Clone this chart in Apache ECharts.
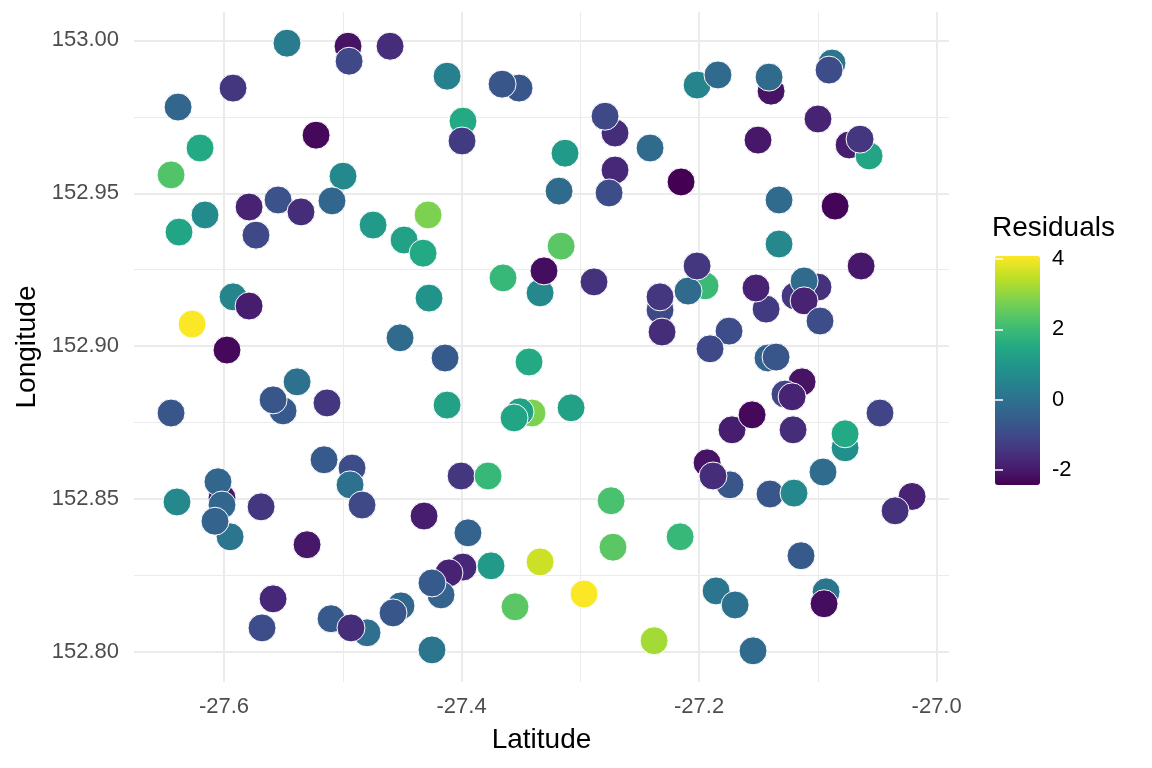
<!DOCTYPE html>
<html><head><meta charset="utf-8">
<script src="https://cdn.jsdelivr.net/npm/echarts@6/dist/echarts.min.js"></script>
<style>html,body{margin:0;padding:0;background:#fff}#c{width:1152px;height:768px}</style>
</head><body><div id="c"></div>
<script>
// ---- data ----
const latitude = [
-27.5470,-27.4956,-27.4947,-27.4602,-27.4122,-27.3516,-27.3659,-27.6387,-27.5924,-27.5225,
-27.3988,-27.3996,-27.6202,-27.6446,-27.4998,-27.3129,-27.2708,-27.2792,-27.2413,-27.2708,
-27.2758,-27.3179,-27.2152,-27.2017,-27.1841,-27.1394,-27.1411,-27.0881,-27.0906,-27.0999,
-27.1504,-27.0737,-27.0569,-27.0645,-27.1327,-27.0855,-27.6160,-27.5789,-27.5545,-27.5352,
-27.5091,-27.4745,-27.6379,-27.5731,-27.4484,-27.4324,-27.4282,-27.3162,-27.3651,-27.3339,
-27.3306,-27.2885,-27.2329,-27.2329,-27.2312,-27.1950,-27.2093,-27.2017,-27.1327,-27.0636,
-27.1436,-27.1521,-27.0999,-27.1192,-27.1116,-27.1116,-27.0982,-27.1748,-27.1908,-27.1420,
-27.1352,-27.1133,-27.1277,-27.1217,-27.1723,-27.1554,-27.1209,-27.0477,-27.0771,-27.0771,
-27.5924,-27.5789,-27.6269,-27.5975,-27.4518,-27.5385,-27.5503,-27.5587,-27.5133,-27.6446,
-27.4274,-27.4139,-27.4122,-27.3432,-27.3078,-27.3407,-27.3508,-27.3558,-27.5158,-27.4922,
-27.4939,-27.4838,-27.6017,-27.6051,-27.6017,-27.5949,-27.6076,-27.6396,-27.5688,-27.5301,
-27.5587,-27.5680,-27.5099,-27.4796,-27.4931,-27.4510,-27.4577,-27.4004,-27.3777,-27.4316,
-27.3946,-27.3988,-27.4106,-27.4173,-27.4249,-27.3752,-27.3339,-27.2969,-27.3550,-27.2741,
-27.2725,-27.2160,-27.2379,-27.4249,-27.1933,-27.1740,-27.1883,-27.1403,-27.1201,-27.0957,
-27.0207,-27.0350,-27.1142,-27.1857,-27.1697,-27.0931,-27.0948,-27.1546
];
const longitude = [
152.9991,152.9981,152.9932,152.9981,152.9883,152.9844,152.9857,152.9782,152.9844,152.9690,
152.9736,152.9671,152.9648,152.9560,152.9556,152.9631,152.9697,152.9752,152.9648,152.9576,
152.9501,152.9507,152.9537,152.9854,152.9887,152.9834,152.9880,152.9926,152.9903,152.9743,
152.9674,152.9658,152.9622,152.9677,152.9478,152.9458,152.9429,152.9455,152.9478,152.9439,
152.9475,152.9396,152.9373,152.9363,152.9347,152.9304,152.9429,152.9327,152.9223,152.9174,
152.9246,152.9210,152.9118,152.9161,152.9046,152.9197,152.9180,152.9262,152.9334,152.9262,
152.9121,152.9190,152.9193,152.9164,152.9213,152.9148,152.9082,152.9049,152.8991,152.8961,
152.8964,152.8883,152.8843,152.8834,152.8726,152.8775,152.8726,152.8781,152.8667,152.8713,
152.9161,152.9131,152.9072,152.8987,152.9027,152.8883,152.8788,152.8824,152.8814,152.8781,
152.9157,152.8961,152.8807,152.8948,152.8798,152.8781,152.8785,152.8765,152.8628,152.8601,
152.8546,152.8480,152.8503,152.8556,152.8480,152.8376,152.8427,152.8490,152.8474,152.8350,
152.8173,152.8078,152.8108,152.8062,152.8078,152.8150,152.8127,152.8575,152.8575,152.8444,
152.8389,152.8277,152.8258,152.8186,152.8225,152.8281,152.8294,152.8189,152.8147,152.8494,
152.8342,152.8376,152.8036,152.8006,152.8618,152.8546,152.8575,152.8516,152.8519,152.8588,
152.8508,152.8461,152.8314,152.8199,152.8153,152.8196,152.8157,152.8003
];
const residuals = [
0.3,-2.1,-1.0,-1.6,0.4,-0.7,-0.7,-0.3,-1.4,-2.3,
1.5,-1.3,1.5,2.3,0.6,1.1,-1.6,-1.0,-0.2,-1.7,
-0.9,-0.2,-2.42,0.5,-0.2,-2.1,-0.2,0.1,-0.9,-1.8,
-2.0,-1.9,1.4,-1.4,-0.2,-2.35,0.7,-1.8,-0.8,-1.6,
-0.3,1.1,1.4,-1.0,1.3,1.5,2.8,2.4,1.9,0.6,
-2.2,-1.5,-1.0,-1.4,-1.6,2.0,-0.2,-1.4,0.6,-2.0,
-1.3,-1.8,-1.5,-1.4,-0.2,-1.8,-0.9,-0.9,-1.0,-0.4,
-0.7,-2.1,-1.1,-1.8,-1.9,-2.3,-1.6,-1.1,0.8,1.5,
0.5,-1.9,4.05,-2.3,-0.2,0.0,-0.6,-0.7,-1.4,-0.7,
0.9,-0.6,1.3,1.5,1.3,2.8,1.3,1.4,-0.6,-0.9,
0.0,-1.0,-2.0,-0.3,-0.3,0.1,-0.4,0.6,-1.4,-2.0,
-1.7,-0.9,-0.6,-0.05,-1.6,-0.3,-0.7,-1.4,1.9,-1.9,
-0.4,-1.7,-1.8,-0.4,-0.6,1.1,3.6,4.05,2.4,2.2,
2.4,1.9,3.2,0.1,-2.1,-0.7,-1.6,-0.7,0.6,-0.15,
-1.8,-1.5,-0.6,0.1,0.0,0.1,-2.2,-0.2
];
const xMajor = [-27.6, -27.4, -27.2, -27.0];
const xMinor = [-27.5, -27.3, -27.1];
const yMajor = [152.80, 152.85, 152.90, 152.95, 153.00];
const yMinor = [152.825, 152.875, 152.925, 152.975];
const legendBreaks = [-2, 0, 2, 4];
const residualRange = [-2.42, 4.08];
const viridis = ['#440154','#482576','#414487','#35608D','#2A788E','#21908C','#22A884','#43BF71','#7AD151','#BBDF27','#FDE725'];

// ---- chart ----
const FONT = '"Liberation Sans", Arial, sans-serif';
const TICK = 22, TITLE = 28;
const points = latitude.map((x, i) => [x, longitude[i], residuals[i]]);
const X0 = -27.6758, X1 = -26.9896, Y0 = 152.7901, Y1 = 153.0093;
const chart = echarts.init(document.getElementById('c'));
chart.setOption({
  animation: false,
  backgroundColor: '#ffffff',
  textStyle: { fontFamily: FONT },
  title: {
    text: 'Residuals', left: 992, top: 214,
    textStyle: { fontSize: TITLE, fontWeight: 'normal', color: '#000', fontFamily: FONT },
    padding: 0
  },
  grid: [
    { left: 134, right: 203, top: 12, bottom: 86 },
    { left: 995, top: 256, width: 45, height: 229 }
  ],
  xAxis: [
    { type: 'value', gridIndex: 0, min: X0, max: X1, position: 'bottom',
      axisLine: { show: false }, axisTick: { show: false, customValues: xMajor },
      axisLabel: { customValues: xMajor, formatter: v => v.toFixed(1), fontSize: TICK, color: '#4d4d4d', margin: 14, fontFamily: FONT },
      splitLine: { show: true, lineStyle: { color: '#ebebeb', width: 2 } },
      name: 'Latitude', nameLocation: 'middle', nameGap: 44,
      nameTextStyle: { fontSize: TITLE, color: '#000', fontFamily: FONT } },
    { type: 'value', gridIndex: 0, min: X0, max: X1, position: 'top',
      axisLine: { show: false }, axisTick: { show: false, customValues: xMinor },
      axisLabel: { show: false, customValues: xMinor },
      splitLine: { show: true, lineStyle: { color: '#ebebeb', width: 1 } } },
    { type: 'value', gridIndex: 1, min: 0, max: 1, show: false }
  ],
  yAxis: [
    { type: 'value', gridIndex: 0, min: Y0, max: Y1, position: 'left',
      axisLine: { show: false }, axisTick: { show: false, customValues: yMajor },
      axisLabel: { customValues: yMajor, formatter: v => v.toFixed(2), fontSize: TICK, color: '#4d4d4d', margin: 15, fontFamily: FONT },
      splitLine: { show: true, lineStyle: { color: '#ebebeb', width: 2 } },
      name: 'Longitude', nameLocation: 'middle', nameGap: 92, nameRotate: 90,
      nameTextStyle: { fontSize: TITLE, color: '#000', fontFamily: FONT } },
    { type: 'value', gridIndex: 0, min: Y0, max: Y1, position: 'right',
      axisLine: { show: false }, axisTick: { show: false, customValues: yMinor },
      axisLabel: { show: false, customValues: yMinor },
      splitLine: { show: true, lineStyle: { color: '#ebebeb', width: 1 } } },
    { type: 'value', gridIndex: 1, min: residualRange[0], max: residualRange[1], position: 'right', z: 10,
      axisLine: { show: false },
      axisTick: { show: true, inside: true, length: 8, customValues: legendBreaks, lineStyle: { color: '#fff', width: 1.5 } },
      axisLabel: { customValues: legendBreaks, fontSize: TICK, color: '#000', margin: 12, fontFamily: FONT },
      splitLine: { show: false } },
    { type: 'value', gridIndex: 1, min: residualRange[0], max: residualRange[1], position: 'left', z: 10,
      axisLine: { show: false },
      axisTick: { show: true, inside: true, length: 8, customValues: legendBreaks, lineStyle: { color: '#fff', width: 1.5 } },
      axisLabel: { show: false, customValues: legendBreaks },
      splitLine: { show: false } }
  ],
  visualMap: {
    type: 'continuous', min: residualRange[0], max: residualRange[1], dimension: 2, seriesIndex: 0,
    calculable: false, hoverLink: false, left: 995, top: 256, itemWidth: 45, itemHeight: 229, padding: 0,
    inRange: { color: viridis }
  },
  series: [{
    type: 'scatter', xAxisIndex: 0, yAxisIndex: 0, data: points,
    symbolSize: 28, itemStyle: { borderColor: '#ffffff', borderWidth: 1, opacity: 1 }
  }]
});
</script>
</body></html>
